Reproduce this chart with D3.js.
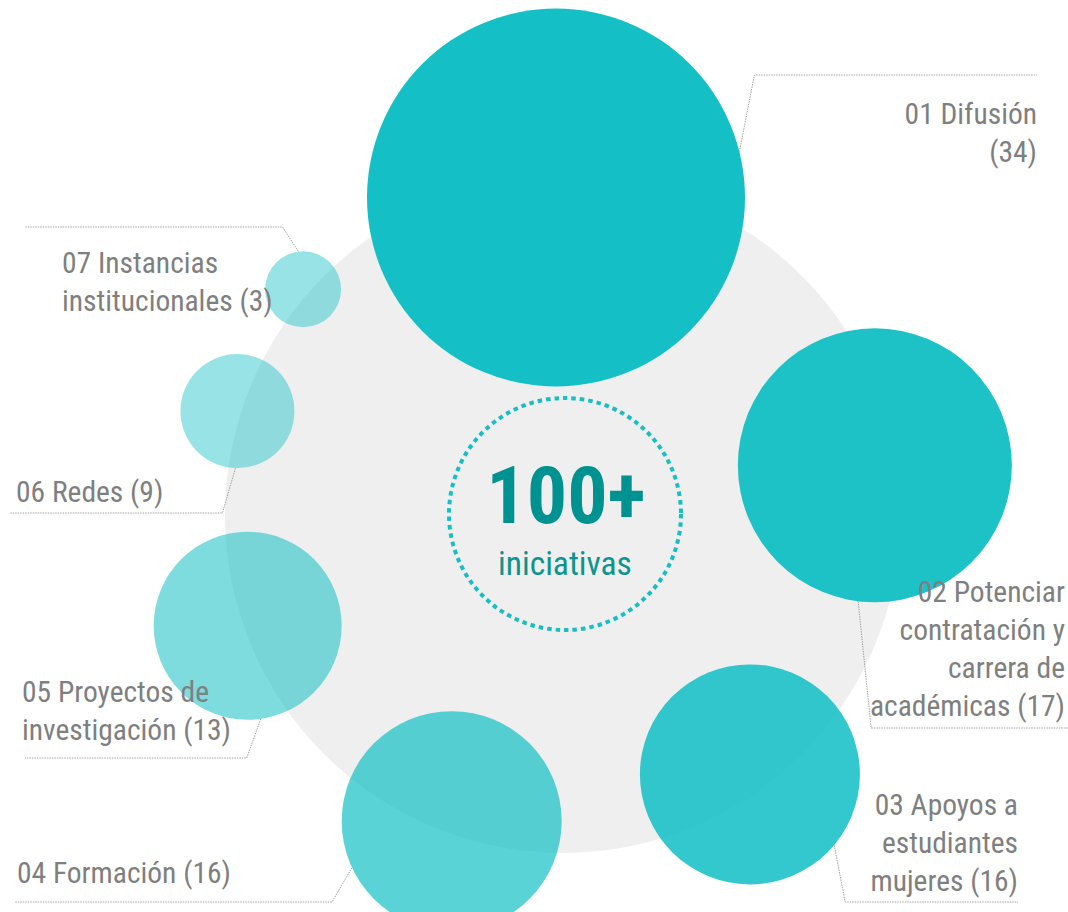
<!DOCTYPE html>
<html>
<head>
<meta charset="utf-8">
<script src="https://cdn.jsdelivr.net/npm/d3@7"></script>
<style>
  body { margin: 0; background: #ffffff; }
  text { font-family: "Liberation Sans Narrow", "Arial Narrow", "Roboto Condensed", "Liberation Sans", sans-serif; }
</style>
</head>
<body>
<div id="grafico"></div>
<script>
// Datos: ejes de trabajo y numero de iniciativas.
var codigos = ["01", "02", "03", "04", "05", "06", "07"];
var nombres = [
  ["Difusión", ""],
  ["Potenciar", "contratación y", "carrera de", "académicas"],
  ["Apoyos a", "estudiantes", "mujeres"],
  ["Formación"],
  ["Proyectos de", "investigación"],
  ["Redes"],
  ["Instancias", "institucionales"]
];
var iniciativas = [34, 17, 16, 16, 13, 9, 3];
var totalTexto = "100+";
var subtitulo = "iniciativas";

// Tamano del SVG.
var width = 1068,
    height = 912;

var svg = d3.select("#grafico")
  .append("svg")
    .attr("width", width)
    .attr("height", height);

// Centro del circulo gris y centro del anillo de burbujas.
var cx = 563, cy = 515;
var ax = 556, ay = 512;
var teal = "#14c0c5";

// Radio de cada burbuja segun el numero de iniciativas.
var radio = d3.scaleLinear()
  .domain([3, 9, 13, 16, 17, 34])
  .range([38, 57, 94, 110, 137, 189]);

var datos = iniciativas.map(function(v, i) {
  return {codigo: codigos[i], lineas: nombres[i], valor: v, r: radio(v), i: i};
});

// Angulo acumulado: cada burbuja avanza segun su tamano y el de la anterior.
var acum = 0;
datos.forEach(function(d, i) {
  if (i > 0) acum += datos[i - 1].r + d.r;
  d.acum = acum;
});
var angulo = d3.scaleLinear()
  .domain([0, acum])
  .range([0, 0.2505 * acum]);
var distancia = d3.scaleLinear()
  .domain([38, 189])
  .range([337, 314.5]);

datos.forEach(function(d) {
  var p = d3.pointRadial(angulo(d.acum) * Math.PI / 180, distancia(d.r));
  d.x = ax + p[0];
  d.y = ay + p[1];
});

// Opacidad decreciente en el sentido del recorrido.
var opacidades = [1, 0.96, 0.87, 0.7, 0.55, 0.44, 0.44];

// Circulo gris de fondo.
svg.append("circle")
  .attr("cx", cx)
  .attr("cy", cy)
  .attr("r", 338)
  .style("fill", "#efefef");

// Burbujas.
svg.append("g")
  .selectAll("circle")
  .data(datos)
  .enter()
  .append("circle")
    .attr("cx", function(d) { return d.x; })
    .attr("cy", function(d) { return d.y; })
    .attr("r", function(d) { return d.r; })
    .style("fill", teal)
    .style("fill-opacity", function(d) { return opacidades[d.i]; });

// Circulo punteado central.
svg.append("circle")
  .attr("cx", cx + 2)
  .attr("cy", cy - 1)
  .attr("r", 116)
  .style("fill", "none")
  .style("stroke", "#17bfc4")
  .style("stroke-width", 4)
  .style("stroke-dasharray", "4.5 4");

svg.append("text")
  .attr("x", cx + 3)
  .attr("y", cy + 8)
  .attr("text-anchor", "middle")
  .text(totalTexto)
  .style("fill", "#009290")
  .style("font-weight", "bold")
  .style("font-size", "80px");

svg.append("text")
  .attr("x", cx + 2)
  .attr("y", cy + 60)
  .attr("text-anchor", "middle")
  .text(subtitulo)
  .style("fill", "#0a9492")
  .style("font-size", "33.5px");

// Posicion de las etiquetas y sus lineas guia.
var etiquetas = [
  {ang: -14, dx: 15, lineaY: 75, fin: 1037, tx: 1037, ancla: "end", ty: 124},
  {ang: 97, dx: 13, lineaY: 728, fin: 1068, tx: 1065, ancla: "end", ty: 602},
  {ang: 40, dx: 11, lineaY: 902, fin: 1018, tx: 1018, ancla: "end", ty: 815},
  {ang: 155, dx: -20, lineaY: 902, fin: 15, tx: 17, ancla: "start", ty: 883},
  {ang: 82, dx: -14, lineaY: 758, fin: 25, tx: 22, ancla: "start", ty: 702},
  {ang: 92, dx: -13, lineaY: 513, fin: 10, tx: 16, ancla: "start", ty: 502},
  {ang: -97, dx: -16, lineaY: 227, fin: 25, tx: 62, ancla: "start", ty: 273}
];
var interlineado = 38;

var guias = svg.append("g");
var textos = svg.append("g");

datos.forEach(function(d, i) {
  var e = etiquetas[i];
  var a = e.ang * Math.PI / 180;
  var x0 = d.x + d.r * Math.cos(a),
      y0 = d.y + d.r * Math.sin(a);
  var codo = [x0 + e.dx, e.lineaY];

  guias.append("path")
    .datum([[x0, y0], codo, [e.fin, e.lineaY]])
    .attr("d", d3.line())
    .style("fill", "none")
    .style("stroke", "#a3a3a3")
    .style("stroke-width", 1)
    .style("stroke-dasharray", "1.5 1");

  // Texto: codigo + nombre, y el numero al final.
  var lineas = d.lineas.slice();
  lineas[0] = d.codigo + " " + lineas[0];
  var ult = lineas.length - 1;
  lineas[ult] = (lineas[ult] + " (" + d.valor + ")").trim();

  var t = textos.append("text")
    .attr("text-anchor", e.ancla)
    .style("fill", "#7f7f7f")
    .style("font-size", "29.5px");
  t.selectAll("tspan")
    .data(lineas)
    .enter()
    .append("tspan")
      .attr("x", e.tx)
      .attr("y", function(l, j) { return e.ty + j * interlineado; })
      .text(function(l) { return l; });
});
</script>
</body>
</html>
